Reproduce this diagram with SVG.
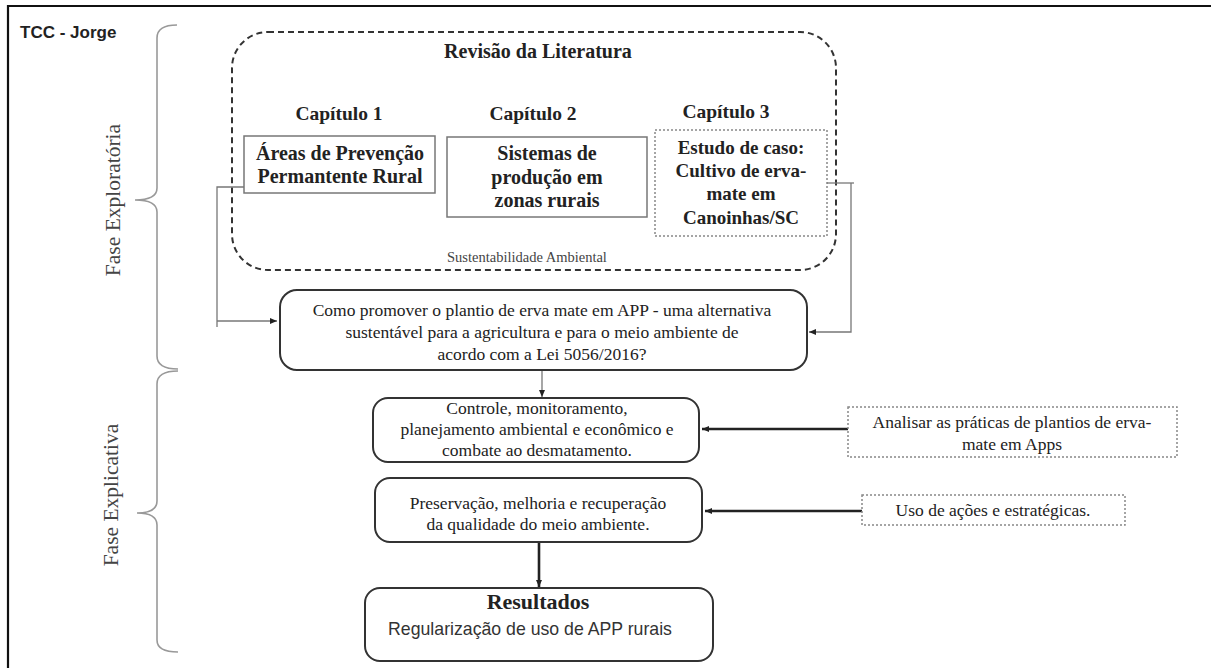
<svg xmlns="http://www.w3.org/2000/svg" width="1211" height="668" viewBox="0 0 1211 668">
<defs>
<marker id="ah" markerWidth="8" markerHeight="8" refX="7" refY="4" orient="auto" markerUnits="userSpaceOnUse">
<path d="M0,1 L7,4 L0,7 Z" fill="#222"/>
</marker>
<style>
.serif{font-family:"Liberation Serif","DejaVu Serif",serif;fill:#222}
.b{font-weight:bold}
.mid{text-anchor:middle}
.body{font-size:17.5px}
.cap{font-size:19.5px;font-weight:bold}
.bx{font-size:20px;font-weight:bold}
.thin{fill:none;stroke:#777;stroke-width:1.3}
.thick{fill:none;stroke:#222;stroke-width:2.6}
.rbox{fill:#fff;stroke:#333;stroke-width:2}
.sbox{fill:#fff;stroke:#777;stroke-width:1.5}
.dbox{fill:#fff;stroke:#888;stroke-width:1.5;stroke-dasharray:2 2}
.brace{fill:none;stroke:#999;stroke-width:1.6}
.phase{font-family:"Liberation Serif","DejaVu Serif",serif;font-size:21.5px;fill:#444;text-anchor:middle}
</style>
</defs>
<rect x="0" y="0" width="1211" height="668" fill="#fff"/>
<path d="M8,668 V6 H1211" fill="none" stroke="#111" stroke-width="2.2"/>
<text x="20" y="38" font-family="'Liberation Sans','DejaVu Sans',sans-serif" font-size="17" font-weight="bold" fill="#222">TCC - Jorge</text>

<g id="brace-exploratoria">
<path class="brace" d="M177,25 Q157,25 157,38 L157,188 Q157,200 135,200 Q157,200 157,212 L157,356 Q157,369 178,369"/>
<text class="phase" x="120" y="200" transform="rotate(-90 120 200)">Fase Exploratória</text>
</g>
<g id="brace-explicativa">
<path class="brace" d="M178,371 Q157,371 157,384 L157,501 Q157,513 137,513 Q157,513 157,525 L157,640 Q157,652 178,652"/>
<text class="phase" x="118" y="495" transform="rotate(-90 118 495)">Fase Explicativa</text>
</g>

<g id="revisao">
<rect x="232" y="32" width="604" height="238" rx="36" fill="none" stroke="#333" stroke-width="2" stroke-dasharray="6 4"/>
<text class="serif b mid" x="538" y="58" font-size="20">Revisão da Literatura</text>
<text class="serif" x="447" y="262" font-size="14.5" fill="#444" style="fill:#444">Sustentabilidade Ambiental</text>
</g>

<g id="cap1">
<text class="serif cap mid" x="339" y="120">Capítulo 1</text>
<rect class="sbox" x="244" y="136" width="191" height="57"/>
<text class="serif bx mid" x="340" y="160">Áreas de Prevenção</text>
<text class="serif bx mid" x="340" y="183">Permantente Rural</text>
</g>
<g id="cap2">
<text class="serif cap mid" x="533" y="120">Capítulo 2</text>
<rect class="sbox" x="447" y="137" width="200" height="80"/>
<text class="serif bx mid" x="547" y="160">Sistemas de</text>
<text class="serif bx mid" x="547" y="184">produção em</text>
<text class="serif bx mid" x="547" y="207">zonas rurais</text>
</g>
<g id="cap3">
<text class="serif cap mid" x="726" y="118">Capítulo 3</text>
<rect class="dbox" x="655" y="130" width="172" height="106"/>
<text class="serif b mid" x="741" y="154" font-size="19">Estudo de caso:</text>
<text class="serif b mid" x="741" y="177" font-size="19">Cultivo de erva-</text>
<text class="serif b mid" x="741" y="200" font-size="19">mate em</text>
<text class="serif b mid" x="741" y="224" font-size="19">Canoinhas/SC</text>
</g>

<g id="connectors">
<path class="thin" d="M244,187 H217 V327"/>
<path class="thin" d="M217,321 H277" marker-end="url(#ah)"/>
<path class="thin" d="M827,183 H854"/>
<path class="thin" d="M851,183 V332 H809" marker-end="url(#ah)"/>
<path class="thin" d="M542,370 V397" marker-end="url(#ah)"/>
<path class="thick" d="M848,429 H702" marker-end="url(#ah)"/>
<path class="thick" d="M862,511 H705" marker-end="url(#ah)"/>
<path class="thick" d="M539,542 V587" marker-end="url(#ah)"/>
</g>

<g id="pergunta">
<rect class="rbox" x="280" y="290" width="527" height="80" rx="17"/>
<text class="serif body mid" x="542" y="316">Como promover o plantio de erva mate em APP - uma alternativa</text>
<text class="serif body mid" x="542" y="338">sustentável para a agricultura e para o meio ambiente de</text>
<text class="serif body mid" x="542" y="360">acordo com a Lei 5056/2016?</text>
</g>

<g id="controle">
<rect class="rbox" x="373" y="398" width="326" height="64" rx="15"/>
<text class="serif body mid" x="537" y="414">Controle, monitoramento,</text>
<text class="serif body mid" x="537" y="435">planejamento ambiental e econômico e</text>
<text class="serif body mid" x="537" y="456">combate ao desmatamento.</text>
</g>

<g id="analisar">
<rect class="dbox" x="848" y="407" width="329" height="50"/>
<text class="serif body mid" x="1012" y="428">Analisar as práticas de plantios de erva-</text>
<text class="serif body mid" x="1012" y="450">mate em Apps</text>
</g>

<g id="preservacao">
<rect class="rbox" x="375" y="478" width="327" height="64" rx="15"/>
<text class="serif body mid" x="538" y="509">Preservação, melhoria e recuperação</text>
<text class="serif body mid" x="538" y="530">da qualidade do meio ambiente.</text>
</g>

<g id="uso">
<rect class="dbox" x="862" y="495" width="263" height="30"/>
<text class="serif body mid" x="993" y="516">Uso de ações e estratégicas.</text>
</g>

<g id="resultados">
<rect class="rbox" x="365" y="588" width="348" height="73" rx="15"/>
<text class="serif b mid" x="538" y="609" font-size="22">Resultados</text>
<text x="530" y="635" text-anchor="middle" font-family="'Liberation Sans','DejaVu Sans',sans-serif" font-size="17.7" fill="#333">Regularização de uso de APP rurais</text>
</g>
</svg>
